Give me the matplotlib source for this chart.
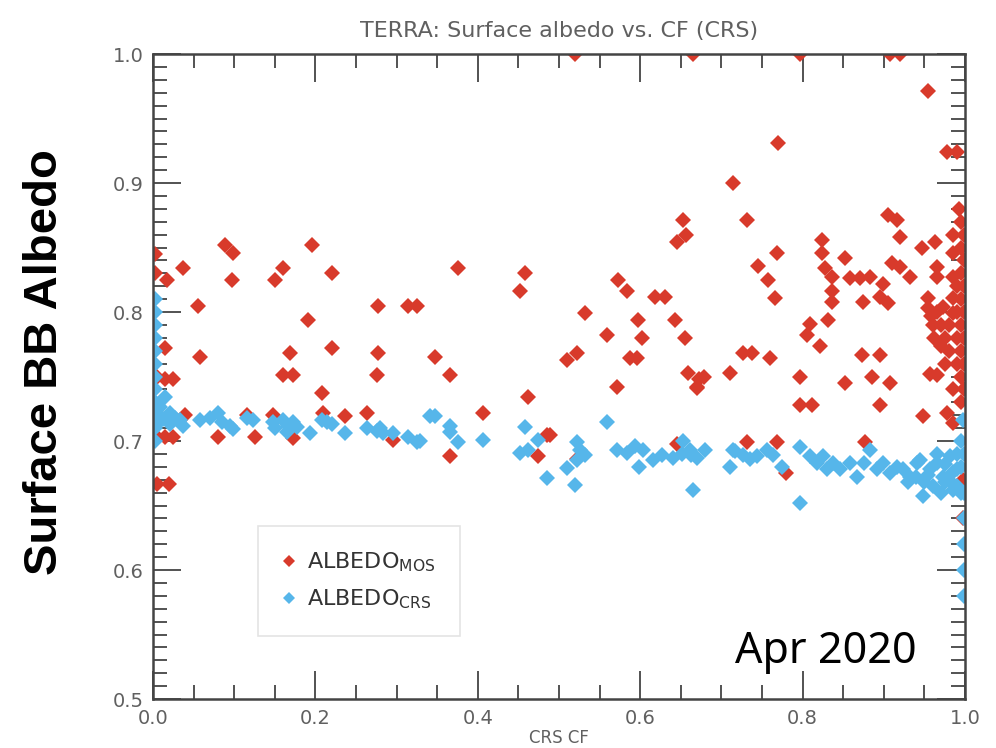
import matplotlib
matplotlib.use("Agg")
import matplotlib.pyplot as plt
from matplotlib.ticker import MultipleLocator

# ALBEDO_MOS (red) points: (CRS CF, albedo)
mos_x = [0.003, 0.003, 0.017, 0.037, 0.055, 0.058, 0.015, 0.005, 0.015, 0.025,
         0.005, 0.015, 0.025, 0.005, 0.020,
         0.089, 0.099, 0.097, 0.150, 0.160, 0.196, 0.191, 0.220, 0.169, 0.160,
         0.172, 0.208, 0.220, 0.236, 0.263, 0.277, 0.277, 0.276, 0.314, 0.325,
         0.080, 0.126, 0.172, 0.296, 0.039, 0.116, 0.148, 0.209,
         0.376, 0.347, 0.366, 0.366, 0.406, 0.458, 0.452, 0.462, 0.485, 0.474,
         0.522, 0.510, 0.522, 0.532, 0.559, 0.571, 0.573, 0.584, 0.587, 0.596,
         0.597, 0.602, 0.618, 0.631, 0.643, 0.655, 0.659, 0.670, 0.653, 0.657,
         0.645, 0.645, 0.520, 0.665, 0.797, 0.908, 0.920,
         0.714, 0.770, 0.731, 0.954, 0.978, 0.990, 0.905, 0.916,
         0.768, 0.745, 0.757, 0.766, 0.824, 0.824, 0.828, 0.836, 0.836, 0.836,
         0.852, 0.858, 0.871, 0.883, 0.874, 0.899, 0.895, 0.905, 0.910, 0.920,
         0.932, 0.920, 0.947, 0.963, 0.966, 0.966, 0.955, 0.955, 0.958, 0.966,
         0.973, 0.985, 0.985, 0.985, 0.985, 0.985, 0.809, 0.805, 0.831, 0.821,
         0.727, 0.738, 0.760, 0.873, 0.895, 0.960, 0.970, 0.962, 0.970, 0.711,
         0.672, 0.678, 0.670, 0.797, 0.885, 0.908, 0.852, 0.957, 0.966, 0.797,
         0.811, 0.895, 0.948, 0.978, 0.985, 0.731, 0.768, 0.877, 0.780, 0.489,
         0.992, 0.995, 0.995, 0.995, 0.995, 0.995, 0.995, 0.995, 0.995, 0.998,
         0.998, 0.990, 0.980, 0.975,
         0.999, 0.999, 0.999, 0.999, 0.999, 0.999, 0.999, 0.990, 0.990, 0.990,
         0.980, 0.975, 0.985]
mos_y = [0.845, 0.830, 0.825, 0.834, 0.805, 0.765, 0.772, 0.750, 0.748, 0.748,
         0.703, 0.703, 0.703, 0.667, 0.667,
         0.852, 0.846, 0.825, 0.825, 0.834, 0.852, 0.794, 0.830, 0.768, 0.751,
         0.751, 0.737, 0.772, 0.719, 0.722, 0.805, 0.768, 0.751, 0.805, 0.805,
         0.703, 0.703, 0.702, 0.701, 0.720, 0.720, 0.720, 0.722,
         0.834, 0.765, 0.751, 0.688, 0.722, 0.830, 0.816, 0.734, 0.705, 0.688,
         0.686, 0.763, 0.768, 0.799, 0.782, 0.742, 0.825, 0.816, 0.764, 0.764,
         0.794, 0.780, 0.812, 0.812, 0.794, 0.780, 0.753, 0.742, 0.871, 0.860,
         0.854, 0.698, 1.000, 1.000, 1.000, 1.000, 1.000,
         0.900, 0.931, 0.871, 0.971, 0.924, 0.924, 0.875, 0.871,
         0.846, 0.836, 0.825, 0.811, 0.856, 0.846, 0.834, 0.827, 0.816, 0.808,
         0.842, 0.826, 0.826, 0.827, 0.808, 0.822, 0.812, 0.807, 0.838, 0.835,
         0.827, 0.858, 0.850, 0.854, 0.835, 0.827, 0.811, 0.803, 0.797, 0.800,
         0.804, 0.860, 0.846, 0.827, 0.811, 0.799, 0.791, 0.782, 0.794, 0.774,
         0.768, 0.768, 0.764, 0.767, 0.767, 0.790, 0.790, 0.780, 0.774, 0.753,
         0.748, 0.750, 0.741, 0.750, 0.750, 0.745, 0.745, 0.752, 0.751, 0.728,
         0.728, 0.728, 0.719, 0.722, 0.714, 0.699, 0.699, 0.699, 0.675, 0.705,
         0.880, 0.870, 0.850, 0.830, 0.810, 0.790, 0.770, 0.750, 0.730, 0.670,
         0.640, 0.760, 0.770, 0.760,
         0.860, 0.840, 0.820, 0.800, 0.780, 0.760, 0.740, 0.820, 0.800, 0.780,
         0.790, 0.780, 0.740]

# ALBEDO_CRS (blue) points
crs_x = [0.002, 0.002, 0.002, 0.002, 0.002, 0.002, 0.002, 0.002, 0.002, 0.002,
         0.002, 0.002,
         0.015, 0.009, 0.021, 0.027, 0.012, 0.005, 0.021, 0.033, 0.037,
         0.058, 0.070, 0.080, 0.085, 0.095, 0.099, 0.116, 0.123, 0.148, 0.150,
         0.160, 0.166, 0.172, 0.177, 0.165, 0.193, 0.208, 0.214, 0.220, 0.236,
         0.263, 0.276, 0.280, 0.283, 0.296, 0.314, 0.325, 0.341, 0.329, 0.347,
         0.366, 0.366, 0.376, 0.406, 0.458, 0.452, 0.462, 0.474, 0.485, 0.510,
         0.522, 0.526, 0.532, 0.522, 0.520, 0.559, 0.571, 0.584, 0.593, 0.603,
         0.598, 0.616, 0.627, 0.640, 0.652, 0.653, 0.662, 0.670, 0.680, 0.665,
         0.661, 0.711, 0.714, 0.717, 0.727, 0.735, 0.744, 0.756, 0.764, 0.775,
         0.797, 0.809, 0.818, 0.825, 0.830, 0.838, 0.846, 0.858, 0.867, 0.875,
         0.883, 0.891, 0.899, 0.908, 0.916, 0.924, 0.932, 0.941, 0.948, 0.957,
         0.965, 0.973, 0.981, 0.990, 0.797,
         0.950, 0.960, 0.970, 0.980, 0.990, 0.975, 0.985, 0.940, 0.990, 0.995,
         0.998, 0.999, 0.999, 0.999, 0.999, 0.999,
         0.955, 0.965, 0.985, 0.995, 0.930, 0.945, 0.975, 0.995, 0.999]
crs_y = [0.810, 0.800, 0.790, 0.780, 0.770, 0.760, 0.750, 0.740, 0.730, 0.720,
         0.710, 0.700,
         0.734, 0.726, 0.722, 0.718, 0.717, 0.713, 0.713, 0.716, 0.712,
         0.716, 0.718, 0.722, 0.715, 0.712, 0.709, 0.718, 0.716, 0.715, 0.710,
         0.716, 0.712, 0.715, 0.711, 0.707, 0.706, 0.716, 0.715, 0.713, 0.706,
         0.710, 0.708, 0.710, 0.706, 0.706, 0.703, 0.699, 0.719, 0.700, 0.719,
         0.712, 0.707, 0.699, 0.701, 0.711, 0.691, 0.693, 0.701, 0.671, 0.679,
         0.699, 0.693, 0.689, 0.685, 0.666, 0.715, 0.693, 0.691, 0.696, 0.693,
         0.680, 0.685, 0.689, 0.687, 0.690, 0.700, 0.689, 0.687, 0.693, 0.662,
         0.693, 0.680, 0.693, 0.692, 0.689, 0.686, 0.688, 0.693, 0.689, 0.680,
         0.695, 0.688, 0.683, 0.688, 0.678, 0.683, 0.678, 0.683, 0.672, 0.683,
         0.693, 0.678, 0.683, 0.675, 0.680, 0.678, 0.672, 0.683, 0.657, 0.678,
         0.683, 0.672, 0.688, 0.678, 0.652,
         0.668, 0.665, 0.660, 0.670, 0.665, 0.682, 0.676, 0.672, 0.690, 0.700,
         0.716, 0.660, 0.640, 0.620, 0.600, 0.580,
         0.674, 0.690, 0.662, 0.680, 0.668, 0.685, 0.668, 0.660, 0.690]

RED = "#d83a2b"
BLUE = "#56b6ea"
GRAY = "#606060"

fig = plt.figure(figsize=(9.96, 7.48), dpi=100)
ax = fig.add_axes([0.1536, 0.0655, 0.8153, 0.8623])

ax.plot(mos_x, mos_y, "D", color=RED, ms=8, mew=0, label="ALBEDO$_{\\mathrm{MOS}}$")
ax.plot(crs_x, crs_y, "D", color=BLUE, ms=8, mew=0, label="ALBEDO$_{\\mathrm{CRS}}$")

ax.set_xlim(0, 1)
ax.set_ylim(0.5, 1.0)
ax.xaxis.set_major_locator(MultipleLocator(0.2))
ax.xaxis.set_minor_locator(MultipleLocator(0.05))
ax.yaxis.set_major_locator(MultipleLocator(0.1))
ax.yaxis.set_minor_locator(MultipleLocator(0.01))
ax.tick_params(which="both", direction="in", top=True, right=True,
               color="#444444", width=1.3, labelcolor=GRAY, labelsize=14)
ax.tick_params(which="major", length=20, pad=7)
ax.tick_params(which="minor", length=10)
ax.xaxis.set_major_formatter(plt.FuncFormatter(lambda v, p: f"{v:.1f}"))
ax.yaxis.set_major_formatter(plt.FuncFormatter(lambda v, p: f"{v:.1f}"))
for s in ax.spines.values():
    s.set_color("#444444")
    s.set_linewidth(1.8)

ax.set_title("TERRA: Surface albedo vs. CF (CRS)", fontsize=16, color=GRAY, pad=12)
ax.set_xlabel("CRS CF", fontsize=12, color=GRAY, labelpad=1)

fig.text(0.045, 0.516, "Surface BB Albedo", rotation=90, ha="center", va="center",
         fontsize=34, fontweight="bold", family="Liberation Sans")

ax.text(0.941, 0.056, "Apr 2020", transform=ax.transAxes, ha="right", va="baseline",
        fontsize=31, family="Noto Sans", color="black")

leg = ax.legend(loc="lower left", bbox_to_anchor=(0.129, 0.098), fontsize=16,
                frameon=True, fancybox=False, handlelength=0.6, handletextpad=0.5,
                borderpad=1.1, labelspacing=0.6, borderaxespad=0, markerscale=0.8)
leg.get_frame().set_edgecolor("#dddddd")
leg.get_frame().set_linewidth(1.2)
for t in leg.get_texts():
    t.set_color("#333333")

fig.savefig("out.png", dpi=100)
